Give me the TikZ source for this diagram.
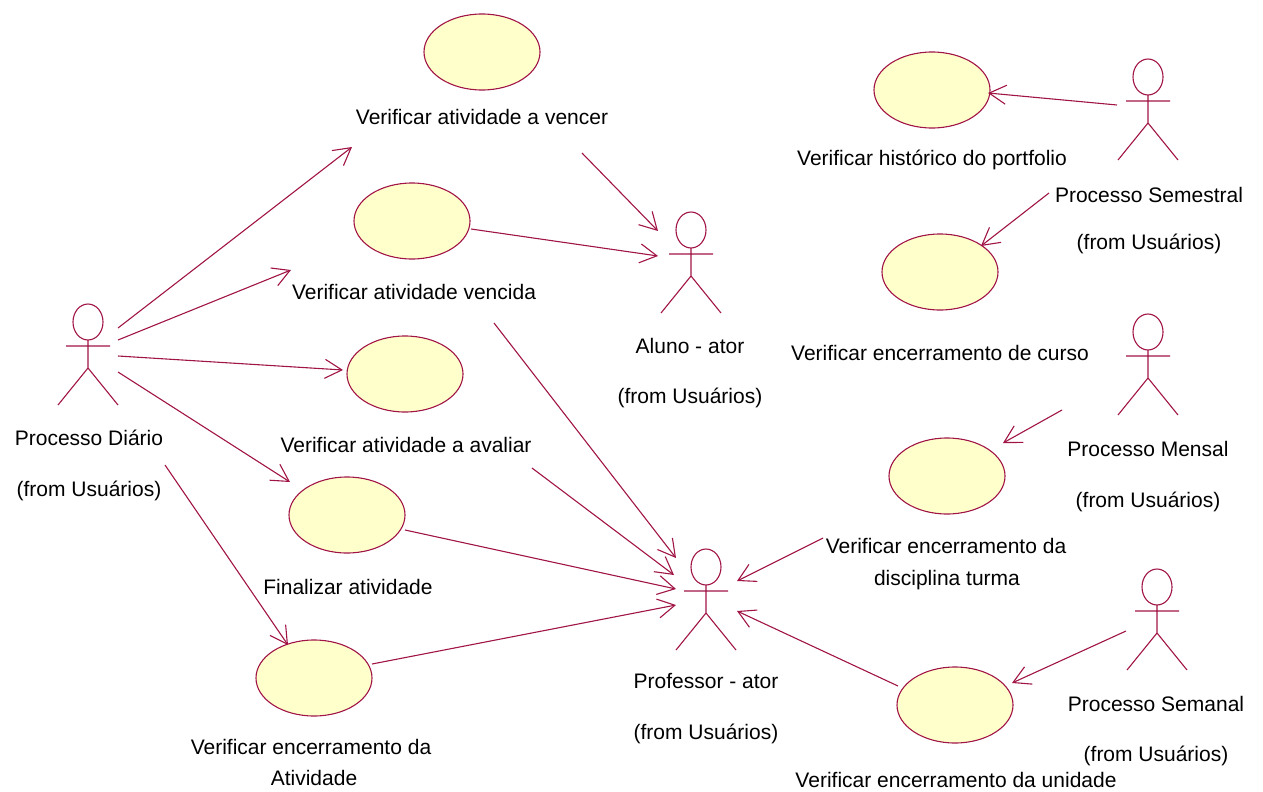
\documentclass[tikz,border=0pt]{standalone}
\usepackage{fontspec}
\setmainfont{Liberation Sans}
\usetikzlibrary{arrows.meta,shapes.geometric}
\definecolor{umlline}{RGB}{160,20,70}
\definecolor{ucfill}{RGB}{255,255,204}
\begin{document}
\begin{tikzpicture}[x=1pt,y=-1pt,
  usecase/.style={ellipse,draw=umlline,fill=ucfill,line width=1.1pt,
    minimum width=116pt,minimum height=76pt,inner sep=0pt},
  lbl/.style={anchor=base,inner sep=0pt,font=\fontsize{21}{25}\selectfont},
  assoc/.style={draw=umlline,line width=1.1pt,
    -{Straight Barb[length=17pt,width=19pt,line width=1.1pt]}},
  actorline/.style={draw=umlline,line width=1.1pt},
  actor/.pic={
    \coordinate (-c) at (0,0);
    \draw[actorline] (0,0) ellipse[x radius=15pt,y radius=18pt];
    \draw[actorline] (-22,24) -- (22,24) (0,18) -- (0,46)
      (-30,83) -- (0,46) -- (30,83);
  }]
\useasboundingbox (0,0) rectangle (1263,792);

% ---- use cases ----
\node[usecase] (ucVencer)    at (482,52)  {};
\node[usecase] (ucVencida)   at (412,221) {};
\node[usecase] (ucAvaliar)   at (405,374) {};
\node[usecase] (ucFinalizar) at (347,515) {};
\node[usecase] (ucEncAtiv)   at (314,678) {};
\node[usecase] (ucHist)      at (932,90)  {};
\node[usecase] (ucCurso)     at (940,272) {};
\node[usecase] (ucDisc)      at (947,476) {};
\node[usecase] (ucUnidade)   at (955,705) {};

\node[lbl] (tVencer)    at (482,124) {Verificar atividade a vencer};
\node[lbl] (tVencida)   at (414,299) {Verificar atividade vencida};
\node[lbl] (tAvaliar)   at (406,452) {Verificar atividade a avaliar};
\node[lbl] (tFinalizar) at (348,594) {Finalizar atividade};
\node[lbl] (tEncAtiv1)  at (311,754) {Verificar encerramento da};
\node[lbl] (tEncAtiv2)  at (314,785) {Atividade};
\node[lbl] (tHist)      at (932,165) {Verificar histórico do portfolio};
\node[lbl] (tCurso)     at (940,360) {Verificar encerramento de curso};
\node[lbl] (tDisc1)     at (946,553) {Verificar encerramento da};
\node[lbl] (tDisc2)     at (947,585) {disciplina turma};
\node[lbl] (tUnidade)   at (956,787) {Verificar encerramento da unidade};

% ---- actors ----
\pic (diario)    at (88,322)   {actor};
\pic (aluno)     at (691,230)  {actor};
\pic (professor) at (706,567)  {actor};
\pic (semestral) at (1148,77)  {actor};
\pic (mensal)    at (1148,332) {actor};
\pic (semanal)   at (1157,587) {actor};

\node[lbl] (nDiario)     at (89,445)   {Processo Diário};
\node[lbl] (fDiario)     at (89,496)   {(from Usuários)};
\node[lbl] (nAluno)      at (690,353)  {Aluno - ator};
\node[lbl] (fAluno)      at (690,403)  {(from Usuários)};
\node[lbl] (nProfessor)  at (706,688)  {Professor - ator};
\node[lbl] (fProfessor)  at (706,739)  {(from Usuários)};
\node[lbl] (nSemestral)  at (1149,202) {Processo Semestral};
\node[lbl] (fSemestral)  at (1149,249) {(from Usuários)};
\node[lbl] (nMensal)     at (1148,456) {Processo Mensal};
\node[lbl] (fMensal)     at (1148,507) {(from Usuários)};
\node[lbl] (nSemanal)    at (1156,711) {Processo Semanal};
\node[lbl] (fSemanal)    at (1156,761) {(from Usuários)};

% ---- connector end points ----
\coordinate (diaA) at (118,328);
\coordinate (diaB) at (118,340);
\coordinate (diaC) at (118,356);
\coordinate (diaD) at (118,372);
\coordinate (diaE) at (165,465);
\coordinate (inVencer)    at (352,147);
\coordinate (inVencida)   at (291,270);
\coordinate (inAvaliar)   at (343,370);
\coordinate (inFinalizar) at (290,482);
\coordinate (inEncAtiv)   at (288,645);

\coordinate (outVencer)   at (582,153);
\coordinate (outVencida)  at (471,229);
\coordinate (alunoA)      at (658,231);
\coordinate (alunoB)      at (658,256);

\coordinate (outVencida2) at (494,323);
\coordinate (outAvaliar)  at (532,468);
\coordinate (outFinal)    at (405,530);
\coordinate (outEncAtiv)  at (372,664);
\coordinate (outDisc)     at (823,538);
\coordinate (outUnidade)  at (898,686);
\coordinate (profA) at (676,558);
\coordinate (profB) at (674,575);
\coordinate (profC) at (676,589);
\coordinate (profD) at (676,605);
\coordinate (profE) at (737,581);
\coordinate (profF) at (737,611);

\coordinate (semA)    at (1117,105);
\coordinate (inHist)  at (988,93);
\coordinate (semB)    at (1049,193);
\coordinate (inCurso) at (981,246);
\coordinate (menA)    at (1062,410);
\coordinate (inDisc)  at (1003,443);
\coordinate (semnA)   at (1126,631);
\coordinate (inUnid)  at (1012,683);

% ---- associations ----
\draw[assoc] (diaA) -- (inVencer);
\draw[assoc] (diaB) -- (inVencida);
\draw[assoc] (diaC) -- (inAvaliar);
\draw[assoc] (diaD) -- (inFinalizar);
\draw[assoc] (diaE) -- (inEncAtiv);

\draw[assoc] (outVencer) -- (alunoA);
\draw[assoc] (outVencida) -- (alunoB);

\draw[assoc] (outVencida2) -- (profA);
\draw[assoc] (outAvaliar) -- (profB);
\draw[assoc] (outFinal) -- (profC);
\draw[assoc] (outEncAtiv) -- (profD);
\draw[assoc] (outDisc) -- (profE);
\draw[assoc] (outUnidade) -- (profF);

\draw[assoc] (semA) -- (inHist);
\draw[assoc] (semB) -- (inCurso);
\draw[assoc] (menA) -- (inDisc);
\draw[assoc] (semnA) -- (inUnid);
\end{tikzpicture}
\end{document}
